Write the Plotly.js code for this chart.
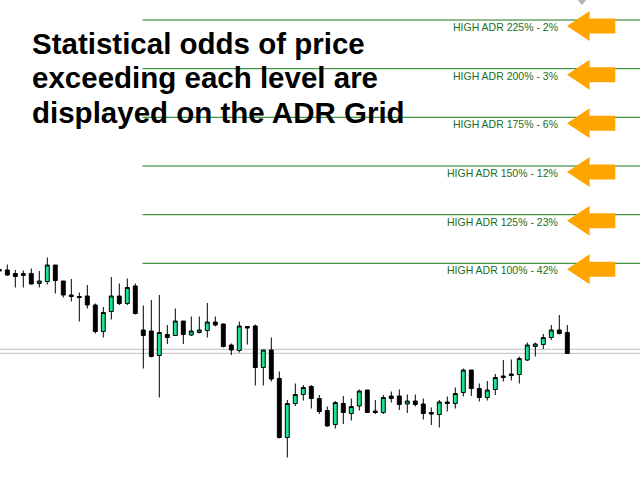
<!DOCTYPE html>
<html>
<head>
<meta charset="utf-8">
<script src="https://cdn.plot.ly/plotly-3.0.1.min.js"></script>
<style>
  html, body { margin: 0; padding: 0; background: #fff; }
  #chart { width: 640px; height: 480px; }
</style>
</head>
<body>
<div id="chart"></div>
<script>
// candles (oldest first)
var open = [1.09305, 1.0930, 1.09265, 1.09245, 1.09265, 1.09165, 1.09185, 1.0935, 1.0919, 1.0905,
  1.09035, 1.0904, 1.0895, 1.08685, 1.08885, 1.0904, 1.08965, 1.0914, 1.0870, 1.0869,
  1.08445, 1.08655, 1.08645, 1.0879, 1.0865, 1.08675, 1.08695, 1.0878, 1.0876, 1.0855,
  1.08495, 1.08735, 1.0874, 1.08325, 1.0850, 1.08215, 1.07625, 1.07965, 1.08055, 1.08135,
  1.08015, 1.07895, 1.07755, 1.07965, 1.07865, 1.0794, 1.0810, 1.0789, 1.07875, 1.0804,
  1.0804, 1.0796, 1.0799, 1.0796, 1.07875, 1.07855, 1.0798, 1.07965, 1.08075, 1.0830,
  1.08115, 1.08025, 1.08105, 1.0824, 1.0826, 1.08255, 1.0840, 1.08535, 1.08555, 1.08625,
  1.0870, 1.08675];
var high = [1.0931, 1.09355, 1.0930, 1.09295, 1.09315, 1.0929, 1.09425, 1.0935, 1.0919, 1.0921,
  1.09075, 1.0915, 1.08965, 1.0893, 1.0923, 1.09165, 1.09215, 1.09165, 1.08945, 1.0900,
  1.0905, 1.0875, 1.08915, 1.0879, 1.08835, 1.08835, 1.0897, 1.08835, 1.08765, 1.08565,
  1.08785, 1.0874, 1.08755, 1.0850, 1.08625, 1.08285, 1.0800, 1.08165, 1.0815, 1.0815,
  1.0805, 1.07935, 1.0799, 1.0804, 1.08015, 1.08105, 1.0810, 1.0800, 1.0805, 1.08085,
  1.08105, 1.08055, 1.08055, 1.08015, 1.07925, 1.0800, 1.08035, 1.08125, 1.08315, 1.0830,
  1.08165, 1.0819, 1.0826, 1.0840, 1.08405, 1.08435, 1.08575, 1.08575, 1.0866, 1.0875,
  1.0885, 1.0875];
var low = [1.09285, 1.0924, 1.09125, 1.09125, 1.09155, 1.09125, 1.09155, 1.09065, 1.09025, 1.08985,
  1.08785, 1.08915, 1.08665, 1.08625, 1.08805, 1.0895, 1.0895, 1.08855, 1.08315, 1.08425,
  1.08025, 1.0856, 1.08645, 1.0856, 1.0864, 1.08665, 1.08625, 1.08735, 1.08525, 1.0845,
  1.08475, 1.08555, 1.08145, 1.08145, 1.08185, 1.07615, 1.07425, 1.0794, 1.07995, 1.07915,
  1.0786, 1.07735, 1.07715, 1.0776, 1.07795, 1.07895, 1.07875, 1.0786, 1.0786, 1.07975,
  1.0790, 1.0787, 1.07935, 1.07805, 1.0775, 1.07725, 1.07885, 1.07915, 1.08035, 1.0804,
  1.07985, 1.07995, 1.0805, 1.08185, 1.08195, 1.08165, 1.0839, 1.08435, 1.0851, 1.0860,
  1.08655, 1.08465];
var close = [1.0929, 1.0925, 1.09235, 1.09265, 1.0916, 1.0919, 1.0935, 1.09195, 1.0905, 1.09035,
  1.09025, 1.0895, 1.08685, 1.08875, 1.0904, 1.08965, 1.09125, 1.08865, 1.08645, 1.08435,
  1.08675, 1.08625, 1.0879, 1.08655, 1.0869, 1.0870, 1.0878, 1.0875, 1.08535, 1.0850,
  1.0874, 1.0872, 1.08325, 1.0850, 1.0821, 1.07625, 1.07965, 1.08055, 1.08125, 1.08015,
  1.07885, 1.0774, 1.07975, 1.07875, 1.07935, 1.0809, 1.07875, 1.07875, 1.08025, 1.08015,
  1.07955, 1.0799, 1.07955, 1.07865, 1.0786, 1.0798, 1.07965, 1.08065, 1.0830, 1.08115,
  1.08025, 1.0810, 1.08225, 1.08225, 1.08245, 1.08415, 1.0855, 1.0856, 1.08625, 1.0870,
  1.08665, 1.08465];

// ADR grid
var adrPct = [100, 125, 150, 175, 200, 225];
var adrOdds = [42, 23, 12, 6, 3, 2];
var adrLevel = [1.09367, 1.09853, 1.1034, 1.10827, 1.11313, 1.1180];
var gridStart = 17.9;

var bid = 1.08467;
var ask = 1.08507;

var headline = ["Statistical odds of price", "exceeding each level are", "displayed on the ADR Grid"];

var idx = open.map(function (d, i) { return i; });

var data = [{
  type: "candlestick",
  x: idx,
  open: open,
  high: high,
  low: low,
  close: close,
  increasing: { fillcolor: "#1ee28c", line: { color: "#000000", width: 1 } },
  decreasing: { fillcolor: "#000000", line: { color: "#000000", width: 1 } },
  hoverinfo: "skip"
}];

adrLevel.forEach(function (lv) {
  data.push({
    type: "scatter",
    mode: "lines",
    x: [gridStart, 200],
    y: [lv, lv],
    line: { color: "#1a7a1a", width: 1 },
    hoverinfo: "skip"
  });
});

var shapes = [bid, ask].map(function (p) {
  return {
    type: "line", xref: "paper", x0: 0, x1: 1, yref: "y", y0: p, y1: p,
    line: { color: "#c0c0c0", width: 1 }, layer: "below"
  };
});

// orange arrows pointing at each level
adrLevel.forEach(function (lv) {
  shapes.push({
    type: "path",
    xref: "paper", xsizemode: "pixel", xanchor: 567 / 640,
    yref: "y", ysizemode: "pixel", yanchor: lv,
    path: "M0,-6 L22.6,9 L22.6,1.5 L48.3,1.5 L48.3,-13.5 L22.6,-13.5 L22.6,-21 Z",
    fillcolor: "#ffa500",
    line: { width: 0 }
  });
});

// small grey marker at the top edge
shapes.push({
  type: "path",
  xref: "paper", xsizemode: "pixel", xanchor: 582 / 640,
  yref: "paper", ysizemode: "pixel", yanchor: 1,
  path: "M-6,2 L6,2 L0,-5 Z",
  fillcolor: "#b4b4b4",
  line: { width: 0 }
});

var annotations = adrLevel.map(function (lv, i) {
  return {
    xref: "paper", x: 560 / 640, xanchor: "right",
    yref: "y", y: lv, yanchor: "middle", yshift: -7,
    text: "HIGH ADR " + adrPct[i] + "% - " + adrOdds[i] + "%",
    showarrow: false,
    font: { family: "Liberation Sans, Arial, sans-serif", size: 10.5, color: "#1c6e1c" }
  };
});

headline.forEach(function (line, i) {
  annotations.push({
    xref: "paper", x: 30 / 640, xanchor: "left", align: "left",
    yref: "paper", y: 1 - (43 + i * 34.5) / 480, yanchor: "middle",
    text: "<b>" + line + "</b>",
    showarrow: false,
    font: { family: "Liberation Sans, Arial, sans-serif", size: 29.5, color: "#000000" }
  });
});

var layout = {
  width: 640,
  height: 480,
  margin: { l: 0, r: 0, t: 0, b: 0 },
  paper_bgcolor: "#ffffff",
  plot_bgcolor: "#ffffff",
  showlegend: false,
  xaxis: { range: [0.0875, 80.0875], visible: false, rangeslider: { visible: false }, fixedrange: true },
  yaxis: { range: [1.072, 1.12], visible: false, fixedrange: true },
  shapes: shapes,
  annotations: annotations
};

Plotly.newPlot("chart", data, layout, { displayModeBar: false, staticPlot: true });
</script>
</body>
</html>
